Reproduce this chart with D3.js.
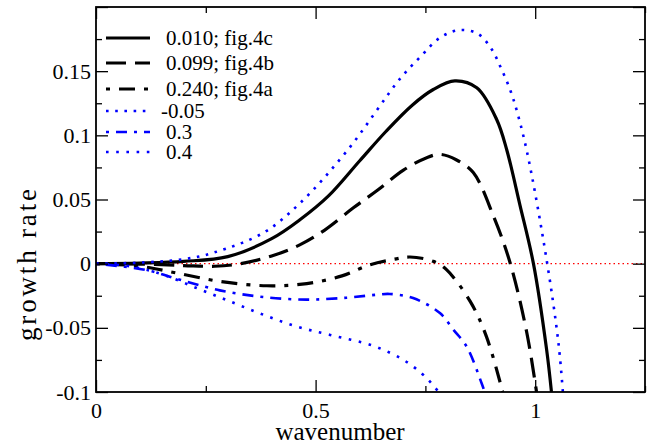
<!DOCTYPE html>
<html>
<head>
<meta charset="utf-8">
<script src="https://cdn.jsdelivr.net/npm/d3@7"></script>
<style>
  html, body { margin: 0; padding: 0; background: #fff; }
  svg { display: block; }
  svg text { font-family: "Liberation Serif", "DejaVu Serif", serif !important; fill: #000; }
</style>
</head>
<body>
<svg id="chart" width="655" height="445"></svg>
<script>
// ---------------- data ----------------
const seriesNames = ["0.010; fig.4c", "0.099; fig.4b", "0.240; fig.4a", "-0.05", "0.3", "0.4"];

const x010 = [0, 0.1, 0.2, 0.3, 0.4, 0.465, 0.53, 0.6, 0.66, 0.72, 0.768, 0.817, 0.867, 0.912, 0.935, 0.965, 0.996, 1.026, 1.037];
const y010 = [0, 0.0005, 0.0018, 0.0055, 0.0195, 0.0344, 0.053, 0.08, 0.103, 0.1235, 0.1357, 0.1424, 0.137, 0.1125, 0.089, 0.046, 0, -0.067, -0.1];

const x099 = [0, 0.1, 0.2, 0.27, 0.33, 0.4, 0.465, 0.52, 0.586, 0.643, 0.70, 0.753, 0.783, 0.82, 0.859, 0.905, 0.943, 0.981, 1.003];
const y099 = [0, -0.0003, -0.0015, -0.002, 0, 0.006, 0.0148, 0.026, 0.0435, 0.0578, 0.0729, 0.0826, 0.0852, 0.081, 0.071, 0.037, 0.0005, -0.054, -0.1];

const x240 = [0, 0.1, 0.184, 0.282, 0.389, 0.48, 0.56, 0.624, 0.68, 0.715, 0.768, 0.798, 0.852, 0.889, 0.926];
const y240 = [0, -0.002, -0.0073, -0.0138, -0.0172, -0.0155, -0.0095, -0.0008, 0.0035, 0.0052, 0.0018, -0.0047, -0.0294, -0.0568, -0.1];

const xm005 = [0, 0.1, 0.2, 0.267, 0.381, 0.464, 0.571, 0.692, 0.738, 0.783, 0.827, 0.870, 0.901, 0.920, 0.939, 0.954, 0.981, 1.026, 1.053, 1.063];
const ym005 = [0, 0.0008, 0.0035, 0.0085, 0.024, 0.047, 0.0877, 0.144, 0.161, 0.176, 0.182, 0.179, 0.167, 0.154, 0.139, 0.124, 0.0877, 0.003, -0.062, -0.1];

const x03 = [0, 0.115, 0.191, 0.282, 0.381, 0.48, 0.571, 0.639, 0.669, 0.722, 0.783, 0.814, 0.844, 0.878, 0.885];
const y03 = [0, -0.005, -0.0125, -0.0208, -0.026, -0.028, -0.0265, -0.0242, -0.0236, -0.0268, -0.0385, -0.0516, -0.0646, -0.0932, -0.1];

const x04 = [0, 0.077, 0.153, 0.229, 0.305, 0.381, 0.457, 0.533, 0.631, 0.7, 0.742, 0.763, 0.78];
const y04 = [0, -0.002, -0.0086, -0.019, -0.0294, -0.0398, -0.049, -0.0555, -0.064, -0.075, -0.0857, -0.0928, -0.1];

const xMajorTicks = [0, 0.5, 1];
const xTickLabels = ["0", "0.5", "1"];
const yMajorTicks = [-0.1, -0.05, 0, 0.05, 0.1, 0.15, 0.2];
const yTickLabels = ["-0.1", "-0.05", "0", "0.05", "0.1", "0.15", ""];
const xMinorTicks = [0.25, 0.75, 1.25];
const yMinorTicks = [-0.075, -0.025, 0.025, 0.075, 0.125, 0.175];

// ---------------- styles ----------------
const styles = [
  { color: "#000", width: 3.2, dash: null },
  { color: "#000", width: 3.2, dash: "20,9" },
  { color: "#000", width: 3.2, dash: "4,9,16,9" },
  { color: "#0000ff", width: 2.6, dash: "2.6,6.6" },
  { color: "#0000ff", width: 2.6, dash: "3,7,11,7" },
  { color: "#0000ff", width: 2.6, dash: "2.6,7.6" }
];
const seriesX = [x010, x099, x240, xm005, x03, x04];
const seriesY = [y010, y099, y240, ym005, y03, y04];

// ---------------- layout ----------------
const L = 96, R = 645, T = 7, B = 392;
const FONT = '"Liberation Serif", "DejaVu Serif", serif';
const svg = d3.select("#chart");
const x = d3.scaleLinear().domain([0, 1.25]).range([L, R]);
const y = d3.scaleLinear().domain([-0.1, 0.2]).range([B, T]);

svg.append("defs").append("clipPath").attr("id", "clip")
  .append("rect").attr("x", L).attr("y", T).attr("width", R - L).attr("height", B - T);

// zero line
svg.append("line")
  .attr("x1", x(0)).attr("x2", x(1.25)).attr("y1", y(0)).attr("y2", y(0))
  .attr("stroke", "#ff0000").attr("stroke-width", 1.4).attr("stroke-dasharray", "1.5,3");

const line = d3.line().x(d => x(d[0])).y(d => y(d[1])).curve(d3.curveCatmullRom.alpha(0.5));
const gLines = svg.append("g").attr("clip-path", "url(#clip)");
seriesX.forEach((xs, i) => {
  const pts = xs.map((v, j) => [v, seriesY[i][j]]);
  gLines.append("path").datum(pts)
    .attr("d", line)
    .attr("fill", "none")
    .attr("stroke", styles[i].color)
    .attr("stroke-width", styles[i].width)
    .attr("stroke-dasharray", styles[i].dash)
    .attr("stroke-linecap", "butt")
    .attr("stroke-linejoin", "round");
});

// ---------------- axes ----------------
function styleAxis(g) {
  g.attr("font-family", FONT);
  g.select(".domain").remove();
  g.selectAll(".tick line").attr("stroke", "#000").attr("stroke-width", 1.3);
  g.selectAll(".tick text").style("font-family", FONT).attr("font-size", 22).attr("fill", "#000");
}
const fmtX = d => xTickLabels[xMajorTicks.indexOf(d)];
const fmtY = d => { const k = yMajorTicks.findIndex(v => Math.abs(v - d) < 1e-9); return yTickLabels[k]; };

svg.append("g").attr("transform", `translate(0,${B})`)
  .call(d3.axisBottom(x).tickValues(xMajorTicks).tickSize(-12).tickPadding(10).tickFormat(fmtX)).call(styleAxis);
svg.append("g").attr("transform", `translate(0,${B})`)
  .call(d3.axisBottom(x).tickValues(xMinorTicks).tickSize(-6).tickFormat("")).call(styleAxis);
svg.append("g").attr("transform", `translate(0,${T})`)
  .call(d3.axisTop(x).tickValues(xMajorTicks).tickSize(-12).tickFormat("")).call(styleAxis);
svg.append("g").attr("transform", `translate(0,${T})`)
  .call(d3.axisTop(x).tickValues(xMinorTicks).tickSize(-6).tickFormat("")).call(styleAxis);

svg.append("g").attr("transform", `translate(${L},0)`)
  .call(d3.axisLeft(y).tickValues(yMajorTicks).tickSize(-12).tickPadding(5).tickFormat(fmtY)).call(styleAxis);
svg.append("g").attr("transform", `translate(${L},0)`)
  .call(d3.axisLeft(y).tickValues(yMinorTicks).tickSize(-6).tickFormat("")).call(styleAxis);
svg.append("g").attr("transform", `translate(${R},0)`)
  .call(d3.axisRight(y).tickValues(yMajorTicks).tickSize(-12).tickFormat("")).call(styleAxis);
svg.append("g").attr("transform", `translate(${R},0)`)
  .call(d3.axisRight(y).tickValues(yMinorTicks).tickSize(-6).tickFormat("")).call(styleAxis);

// frame
svg.append("rect").attr("x", L).attr("y", T).attr("width", R - L).attr("height", B - T)
  .attr("fill", "none").attr("stroke", "#000").attr("stroke-width", 1.8);

// axis titles
svg.append("text").attr("x", 340).attr("y", 440).attr("text-anchor", "middle")
  .style("font-family", FONT).attr("font-size", 25).text("wavenumber");
svg.append("text").attr("transform", "translate(36,265) rotate(-90)").attr("text-anchor", "middle")
  .style("font-family", FONT).attr("font-size", 27)
  .attr("textLength", 152).attr("lengthAdjust", "spacing").text("growth rate");

// ---------------- legend ----------------
const legendRowsY = [38, 63, 89, 111, 132, 152];
const leg = svg.append("g");
seriesNames.forEach((name, i) => {
  const yy = legendRowsY[i];
  leg.append("line").attr("x1", 106).attr("x2", 150).attr("y1", yy).attr("y2", yy)
    .attr("stroke", styles[i].color).attr("stroke-width", styles[i].width)
    .attr("stroke-dasharray", styles[i].dash);
  leg.append("text").attr("x", name.startsWith("-") ? 161 : 166).attr("y", yy + 7)
    .style("font-family", FONT).attr("font-size", 21).text(name);
});
</script>
</body>
</html>
